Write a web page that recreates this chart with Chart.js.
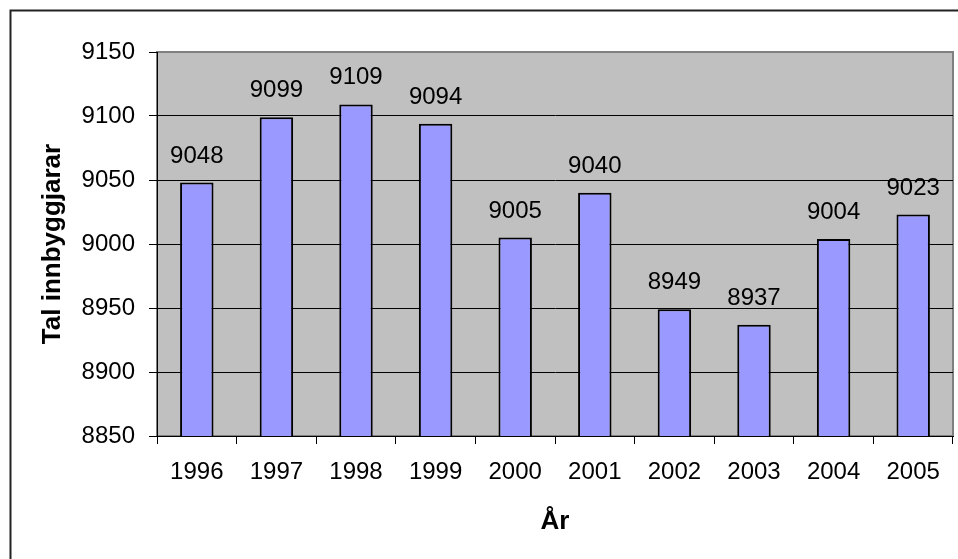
<!DOCTYPE html>
<html>
<head>
<meta charset="utf-8">
<script src="https://cdn.jsdelivr.net/npm/chart.js@4.4.0/dist/chart.umd.min.js"></script>
<style>
  body { margin: 0; background: #fff; }
  #wrap { width: 958px; height: 559px; }
</style>
</head>
<body>
<div id="wrap"><canvas id="myChart" width="958" height="559"></canvas></div>
<script>
// data
const years = ['1996', '1997', '1998', '1999', '2000', '2001', '2002', '2003', '2004', '2005'];
const residents = [9048, 9099, 9109, 9094, 9005, 9040, 8949, 8937, 9004, 9023];
const yTicks = [8850, 8900, 8950, 9000, 9050, 9100, 9150];

const FONT = "'Liberation Sans', Arial, sans-serif";

// grey plot area + outer frame
const plotBg = {
    id: 'plotBg',
    beforeDraw(chart) {
        const { ctx, chartArea: a } = chart;
        ctx.save();
        ctx.strokeStyle = '#222';
        ctx.lineWidth = 2;
        ctx.beginPath();
        ctx.moveTo(10.5, 570);
        ctx.lineTo(10.5, 10.5);
        ctx.lineTo(970, 10.5);
        ctx.stroke();

        ctx.fillStyle = '#c0c0c0';
        ctx.fillRect(a.left, a.top, a.right - a.left, a.bottom - a.top);
        ctx.strokeStyle = '#808080';
        ctx.lineWidth = 2;
        ctx.strokeRect(a.left, a.top, a.right - a.left, a.bottom - a.top);
        ctx.restore();
    }
};

// value labels above each bar
const barLabels = {
    id: 'barLabels',
    afterDatasetsDraw(chart) {
        const { ctx } = chart;
        const meta = chart.getDatasetMeta(0);
        ctx.save();
        ctx.font = '24px ' + FONT;
        ctx.fillStyle = '#000';
        ctx.textAlign = 'center';
        ctx.textBaseline = 'alphabetic';
        meta.data.forEach((bar, i) => {
            ctx.fillText(residents[i], bar.x, bar.y - 20);
        });
        ctx.restore();
    }
};

const ctx = document.getElementById('myChart').getContext('2d');
const myChart = new Chart(ctx, {
    type: 'bar',
    data: {
        labels: years,
        datasets: [{
            data: residents,
            backgroundColor: '#9999ff',
            borderColor: '#000',
            borderWidth: 2,
            categoryPercentage: 1,
            barPercentage: 0.42
        }]
    },
    options: {
        responsive: false,
        animation: false,
        layout: { padding: { top: 52, right: 5, left: 0, bottom: 0 } },
        plugins: {
            legend: { display: false },
            tooltip: { enabled: false }
        },
        scales: {
            x: {
                afterFit(scale) { scale.height = 123; },
                grid: {
                    drawOnChartArea: false,
                    tickLength: 8,
                    tickColor: '#000',
                    offset: true
                },
                border: { color: '#000', width: 1 },
                ticks: {
                    color: '#000',
                    padding: 14,
                    maxRotation: 0,
                    font: { family: FONT, size: 24 }
                },
                title: {
                    display: true,
                    text: 'År',
                    color: '#000',
                    padding: { top: 0, bottom: 22 },
                    font: { family: FONT, size: 26, weight: 'bold' }
                }
            },
            y: {
                min: 8850,
                max: 9150,
                afterFit(scale) { scale.width = 157; },
                afterBuildTicks(scale) {
                    scale.ticks = yTicks.map(v => ({ value: v }));
                },
                grid: {
                    color: c => (c.tick && c.tick.value === 9150) ? '#808080' : '#000',
                    lineWidth: 1,
                    tickLength: 8,
                    tickColor: '#000'
                },
                border: { color: '#000', width: 1 },
                ticks: {
                    color: '#000',
                    padding: 14,
                    font: { family: FONT, size: 24 },
                    callback: v => String(v)
                },
                title: {
                    display: true,
                    text: 'Tal innbyggjarar',
                    color: '#000',
                    padding: { top: 37, bottom: 0 },
                    font: { family: FONT, size: 26, weight: 'bold' }
                }
            }
        }
    },
    plugins: [plotBg, barLabels]
});
</script>
</body>
</html>
